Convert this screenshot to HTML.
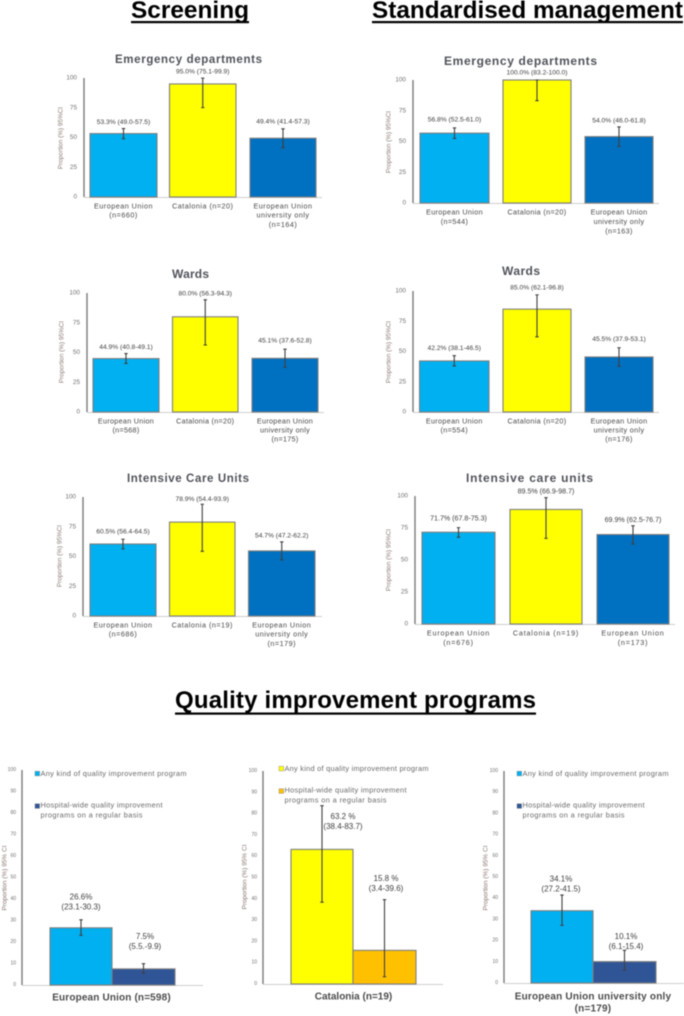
<!DOCTYPE html>
<html lang="en">
<head>
<meta charset="utf-8">
<title>Screening, standardised management and quality improvement programs</title>
<style>
html,body{margin:0;padding:0;background:#fff;}
#figure{display:block;width:684px;height:1016px;filter:blur(0.5px);font-family:"Liberation Sans",Arial,sans-serif;}
</style>
</head>
<body>
<svg id="figure" xmlns="http://www.w3.org/2000/svg" width="684" height="1016" viewBox="0 0 684 1016">
<rect width="684" height="1016" fill="#fff"/>
<text x="131" y="18" font-size="24.4" font-weight="bold" fill="#000" textLength="118" lengthAdjust="spacing">Screening</text>
<rect x="131" y="21" width="118" height="2.2" fill="#000"/>
<text x="372" y="18" font-size="24.3" font-weight="bold" fill="#000" textLength="311" lengthAdjust="spacing">Standardised management</text>
<rect x="372" y="21" width="311" height="2.2" fill="#000"/>
<text x="175" y="708" font-size="24" font-weight="bold" fill="#000" textLength="361" lengthAdjust="spacing">Quality improvement programs</text>
<rect x="175" y="712.5" width="361" height="2.2" fill="#000"/>
<g id="panels"></g>
</svg>
<script>
/* ---------- data ---------- */
const screeningEdCategories = [['European Union','(n=660)'],['Catalonia (n=20)'],['European Union','university only','(n=164)']];
const screeningEdValues = [53.3, 95.0, 49.4];
const screeningEdLow = [49.0, 75.1, 41.4];
const screeningEdHigh = [57.5, 99.9, 57.3];
const screeningEdLabels = [['53.3% (49.0-57.5)'],['95.0% (75.1-99.9)'],['49.4% (41.4-57.3)']];

const managementEdCategories = [['European Union','(n=544)'],['Catalonia (n=20)'],['European Union','university only','(n=163)']];
const managementEdValues = [56.8, 100.0, 54.0];
const managementEdLow = [52.5, 83.2, 46.0];
const managementEdHigh = [61.0, 100.0, 61.8];
const managementEdLabels = [['56.8% (52.5-61.0)'],['100.0% (83.2-100.0)'],['54.0% (46.0-61.8)']];

const screeningWardCategories = [['European Union','(n=568)'],['Catalonia (n=20)'],['European Union','university only','(n=175)']];
const screeningWardValues = [44.9, 80.0, 45.1];
const screeningWardLow = [40.8, 56.3, 37.6];
const screeningWardHigh = [49.1, 94.3, 52.8];
const screeningWardLabels = [['44.9% (40.8-49.1)'],['80.0% (56.3-94.3)'],['45.1% (37.6-52.8)']];

const managementWardCategories = [['European Union','(n=554)'],['Catalonia (n=20)'],['European Union','university only','(n=176)']];
const managementWardValues = [42.2, 85.0, 45.5];
const managementWardLow = [38.1, 62.1, 37.9];
const managementWardHigh = [46.5, 96.8, 53.1];
const managementWardLabels = [['42.2% (38.1-46.5)'],['85.0% (62.1-96.8)'],['45.5% (37.9-53.1)']];

const screeningIcuCategories = [['European Union','(n=686)'],['Catalonia (n=19)'],['European Union','university only','(n=179)']];
const screeningIcuValues = [60.5, 78.9, 54.7];
const screeningIcuLow = [56.4, 54.4, 47.2];
const screeningIcuHigh = [64.5, 93.9, 62.2];
const screeningIcuLabels = [['60.5% (56.4-64.5)'],['78.9% (54.4-93.9)'],['54.7% (47.2-62.2)']];

const managementIcuCategories = [['European Union','(n=676)'],['Catalonia (n=19)'],['European Union','(n=173)']];
const managementIcuValues = [71.7, 89.5, 69.9];
const managementIcuLow = [67.8, 66.9, 62.5];
const managementIcuHigh = [75.3, 98.7, 76.7];
const managementIcuLabels = [['71.7% (67.8-75.3)'],['89.5% (66.9-98.7)'],['69.9% (62.5-76.7)']];

const qualityEuValues = [26.6, 7.5];
const qualityEuLow = [23.1, 5.5];
const qualityEuHigh = [30.3, 9.9];
const qualityEuLabels = [['26.6%','(23.1-30.3)'],['7.5%','(5.5.-9.9)']];

const qualityCatValues = [63.2, 15.8];
const qualityCatLow = [38.4, 3.4];
const qualityCatHigh = [83.7, 39.6];
const qualityCatLabels = [['63.2 %','(38.4-83.7)'],['15.8 %','(3.4-39.6)']];

const qualityUniValues = [34.1, 10.1];
const qualityUniLow = [27.2, 6.1];
const qualityUniHigh = [41.5, 15.4];
const qualityUniLabels = [['34.1%','(27.2-41.5)'],['10.1%','(6.1-15.4)']];

const percentTicks25 = [0, 25, 50, 75, 100];
const percentTicks10 = [0, 10, 20, 30, 40, 50, 60, 70, 80, 90, 100];
const legendAny = ['Any kind of quality improvement program'];
const legendHospital = ['Hospital-wide quality improvement', 'programs  on a regular basis'];

/* ---------- drawing helpers ---------- */
const NS = 'http://www.w3.org/2000/svg';
const panelsRoot = document.getElementById('panels');
function make(tag, attrs, parent, text) {
  const node = document.createElementNS(NS, tag);
  for (const k in attrs) node.setAttribute(k, attrs[k]);
  if (text !== undefined) node.textContent = text;
  parent.appendChild(node);
  return node;
}
function yScale(f, v) { return f.y0 - (v / 100) * (f.y0 - f.yTop); }

function drawAxes(g, f, ticks, yTitleText) {
  const yAxis = make('line', {x1:f.ax, x2:f.ax, y1:f.yTop, y2:f.y0, stroke:'#7a7a7a', 'stroke-width':1.4}, g);
  
  
  const xAxis = make('line', {x1:f.ax, x2:f.axEnd, y1:f.y0+0.5, y2:f.y0+0.5, stroke:'#cfcfcf', 'stroke-width':1.1}, g);
  
  
  ticks.forEach(function (t) {
    const tick = make('text', {x:f.ax-f.tickGap, y:yScale(f,t), 'text-anchor':'end', 'dominant-baseline':'central', 'font-size':f.tickSize, fill:'#707070'}, g, String(t));
    
    
  });
  const yTitle = make('text', {transform:'translate('+f.yTitleX+' '+f.yTitleY+') rotate(-90)', 'text-anchor':'middle', 'dominant-baseline':'central', 'font-size':f.yTitleSize, fill:'#8a7a72'}, g, yTitleText);
  
  
}

function drawBars(g, f, colors, values, low, high, labels) {
  values.forEach(function (v, i) {
    const top = yScale(f, v);
    const bar = make('rect', {x:f.bars[i][0], y:top, width:f.bars[i][1]-f.bars[i][0], height:f.y0-top, fill:colors[i], stroke:'#7f7f7f', 'stroke-width':1.1}, g);
    
    
    const cx = (f.bars[i][0] + f.bars[i][1]) / 2;
    const hi = yScale(f, high[i]);
    const lo = yScale(f, low[i]);
    const err = make('path', {d:'M'+cx+' '+hi+'V'+lo+'M'+(cx-1.7)+' '+hi+'H'+(cx+1.7)+'M'+(cx-1.7)+' '+lo+'H'+(cx+1.7), fill:'none', stroke:'#404040', 'stroke-width':1.1}, g);
    
    
    const lines = labels[i];
    lines.forEach(function (line, j) {
      const ly = hi - f.labelGaps[i] - (lines.length - 1 - j) * f.labelLead;
      const shift = f.labelShift ? f.labelShift[i] : 0;
      const val = make('text', {x:cx+shift, y:ly, 'text-anchor':'middle', 'dominant-baseline':'central', 'font-size':f.labelSize, 'letter-spacing':f.labelSpacing||0, fill:'#404040'}, g, line);
      
      
    });
  });
}

function drawWardPanel(f, categories, values, low, high, labels) {
  const g = make('g', {}, panelsRoot);
  
  
  const title = make('text', {x:f.titleX, y:f.titleY, 'dominant-baseline':'central', 'font-size':f.titleSize, 'font-weight':'bold', fill:'#50535a', textLength:f.titleW, lengthAdjust:'spacing'}, g, f.title);
  
  
  drawAxes(g, f, percentTicks25, 'Proportion (%) 95%CI');
  drawBars(g, f, ['#00B0F0', '#FFFF00', '#0070C0'], values, low, high, labels);
  categories.forEach(function (lines, i) {
    const cx = (f.bars[i][0] + f.bars[i][1]) / 2;
    lines.forEach(function (line, j) {
      const cat = make('text', {x:cx, y:f.y0+9+j*f.catLead, 'text-anchor':'middle', 'dominant-baseline':'central', 'font-size':7.2, 'letter-spacing':f.catSpacing, fill:'#484848'}, g, line);
      
      
    });
  });
}

function drawQualityPanel(f, colors, values, low, high, labels) {
  const g = make('g', {}, panelsRoot);
  
  
  drawAxes(g, f, percentTicks10, 'Proportion (%) 95% CI');
  drawBars(g, f, colors, values, low, high, labels);
  [legendAny, legendHospital].forEach(function (lines, k) {
    const sw = make('rect', {x:f.legendX, y:f.legendY[k]-2.2, width:4.6, height:4.6, fill:colors[k], stroke:'#7f7f7f', 'stroke-width':0.4}, g);
    
    
    lines.forEach(function (line, j) {
      const w = k === 0 ? f.legendW : (j === 0 ? f.legendW2 : f.legendW3);
      const leg = make('text', {x:f.legendX+5.5, y:f.legendY[k]+(k===1?-1:0)+j*10, 'dominant-baseline':'central', 'font-size':7.4, fill:'#6a6a6a', textLength:w, lengthAdjust:'spacing'}, g, line);
      
      
    });
  });
  f.xTitle.forEach(function (line, j) {
    const xt = make('text', {x:f.xTitleX, y:f.xTitleY+j*12, 'text-anchor':'middle', 'dominant-baseline':'central', 'font-size':10, 'font-weight':'bold', 'letter-spacing':f.xTitleSpacing, fill:'#4c4c4c'}, g, line);
    
    
  });
}

/* ---------- panels ---------- */
const topCommon = {tickGap:7, tickSize:6.4, yTitleSize:6.4, labelSize:6.7, labelLead:9};

drawWardPanel(Object.assign({}, topCommon, {name:'screening-emergency-departments-chart', title:'Emergency departments', titleX:115, titleY:60, titleW:147, titleSize:11.5,
  ax:84, axEnd:322, yTop:78, y0:197, yTitleX:61, yTitleY:138, catLead:9.2, catSpacing:0.5,
  bars:[[90,157],[169.5,236],[250,316]], labelGaps:[6,6,7]}),
  screeningEdCategories, screeningEdValues, screeningEdLow, screeningEdHigh, screeningEdLabels);

drawWardPanel(Object.assign({}, topCommon, {name:'management-emergency-departments-chart', title:'Emergency departments', titleX:444, titleY:61, titleW:153, titleSize:12,
  ax:413, axEnd:659, yTop:80, y0:203, yTitleX:389, yTitleY:142, catLead:9.6, catSpacing:0.35,
  bars:[[420,489],[503,571],[585,653]], labelGaps:[8,7,6]}),
  managementEdCategories, managementEdValues, managementEdLow, managementEdHigh, managementEdLabels);

drawWardPanel(Object.assign({}, topCommon, {name:'screening-wards-chart', title:'Wards', titleX:172, titleY:274, titleW:37, titleSize:12,
  ax:87, axEnd:324, yTop:293, y0:412, yTitleX:62, yTitleY:352, catLead:9, catSpacing:0.3,
  bars:[[93,159],[172.5,238],[252,318]], labelGaps:[6,6,8]}),
  screeningWardCategories, screeningWardValues, screeningWardLow, screeningWardHigh, screeningWardLabels);

drawWardPanel(Object.assign({}, topCommon, {name:'management-wards-chart', title:'Wards', titleX:502, titleY:271, titleW:38, titleSize:12,
  ax:413, axEnd:659, yTop:291, y0:412, yTitleX:389, yTitleY:352, catLead:9, catSpacing:0.35,
  bars:[[419.5,489],[503,571],[585,653]], labelGaps:[7,7,8]}),
  managementWardCategories, managementWardValues, managementWardLow, managementWardHigh, managementWardLabels);

drawWardPanel(Object.assign({}, topCommon, {name:'screening-intensive-care-units-chart', title:'Intensive Care Units', titleX:127, titleY:479, titleW:122, titleSize:11.5,
  ax:83, axEnd:322, yTop:497, y0:616, yTitleX:60, yTitleY:556, catLead:9.2, catSpacing:0.5,
  bars:[[90,156],[169.5,235],[248.5,315]], labelGaps:[7,5,6]}),
  screeningIcuCategories, screeningIcuValues, screeningIcuLow, screeningIcuHigh, screeningIcuLabels);

drawWardPanel(Object.assign({}, topCommon, {name:'management-intensive-care-units-chart', title:'Intensive care units', titleX:466, titleY:478, titleW:127, titleSize:12,
  ax:415, axEnd:675, yTop:496, y0:624, yTitleX:389, yTitleY:560, catLead:9.4, catSpacing:0.8,
  bars:[[422,495],[510,582],[597,669]], labelGaps:[9,6,6], labelSize:7.1}),
  managementIcuCategories, managementIcuValues, managementIcuLow, managementIcuHigh, managementIcuLabels);

const bottomCommon = {tickGap:6, tickSize:5, yTitleSize:6.5, labelSize:8, labelLead:10, legendW:146, legendW2:122, legendW3:102};

drawQualityPanel(Object.assign({}, bottomCommon, {name:'quality-european-union-chart',
  ax:22, axEnd:203, yTop:770, y0:985, yTitleX:5, yTitleY:878,
  bars:[[50,112],[112,175]], labelGaps:[13,17], labelShift:[0,1.5],
  legendX:35, legendY:[773.5,806], xTitle:['European Union (n=598)'], xTitleX:111.5, xTitleY:998, xTitleSpacing:0.15}),
  ['#00B0F0', '#2F5597'], qualityEuValues, qualityEuLow, qualityEuHigh, qualityEuLabels);

drawQualityPanel(Object.assign({}, bottomCommon, {name:'quality-catalonia-chart',
  ax:263, axEnd:443, yTop:771, y0:984, yTitleX:245, yTitleY:877,
  bars:[[291,353],[353,416]], labelGaps:[-21,11], labelShift:[21,1.5],
  legendX:279, legendY:[768.5,791], legendW:144, xTitle:['Catalonia (n=19)'], xTitleX:353.5, xTitleY:997, xTitleSpacing:0}),
  ['#FFFF00', '#FFC000'], qualityCatValues, qualityCatLow, qualityCatHigh, qualityCatLabels);

drawQualityPanel(Object.assign({}, bottomCommon, {name:'quality-european-union-university-chart',
  ax:504, axEnd:684, yTop:771, y0:983, yTitleX:486, yTitleY:878,
  bars:[[531,593],[593,656]], labelGaps:[6,4], labelShift:[-1,1.5],
  legendX:517, legendY:[773.5,806], xTitle:['European Union university only','(n=179)'], xTitleX:593, xTitleY:997, xTitleSpacing:0.2}),
  ['#00B0F0', '#2F5597'], qualityUniValues, qualityUniLow, qualityUniHigh, qualityUniLabels);
</script>
</body>
</html>
